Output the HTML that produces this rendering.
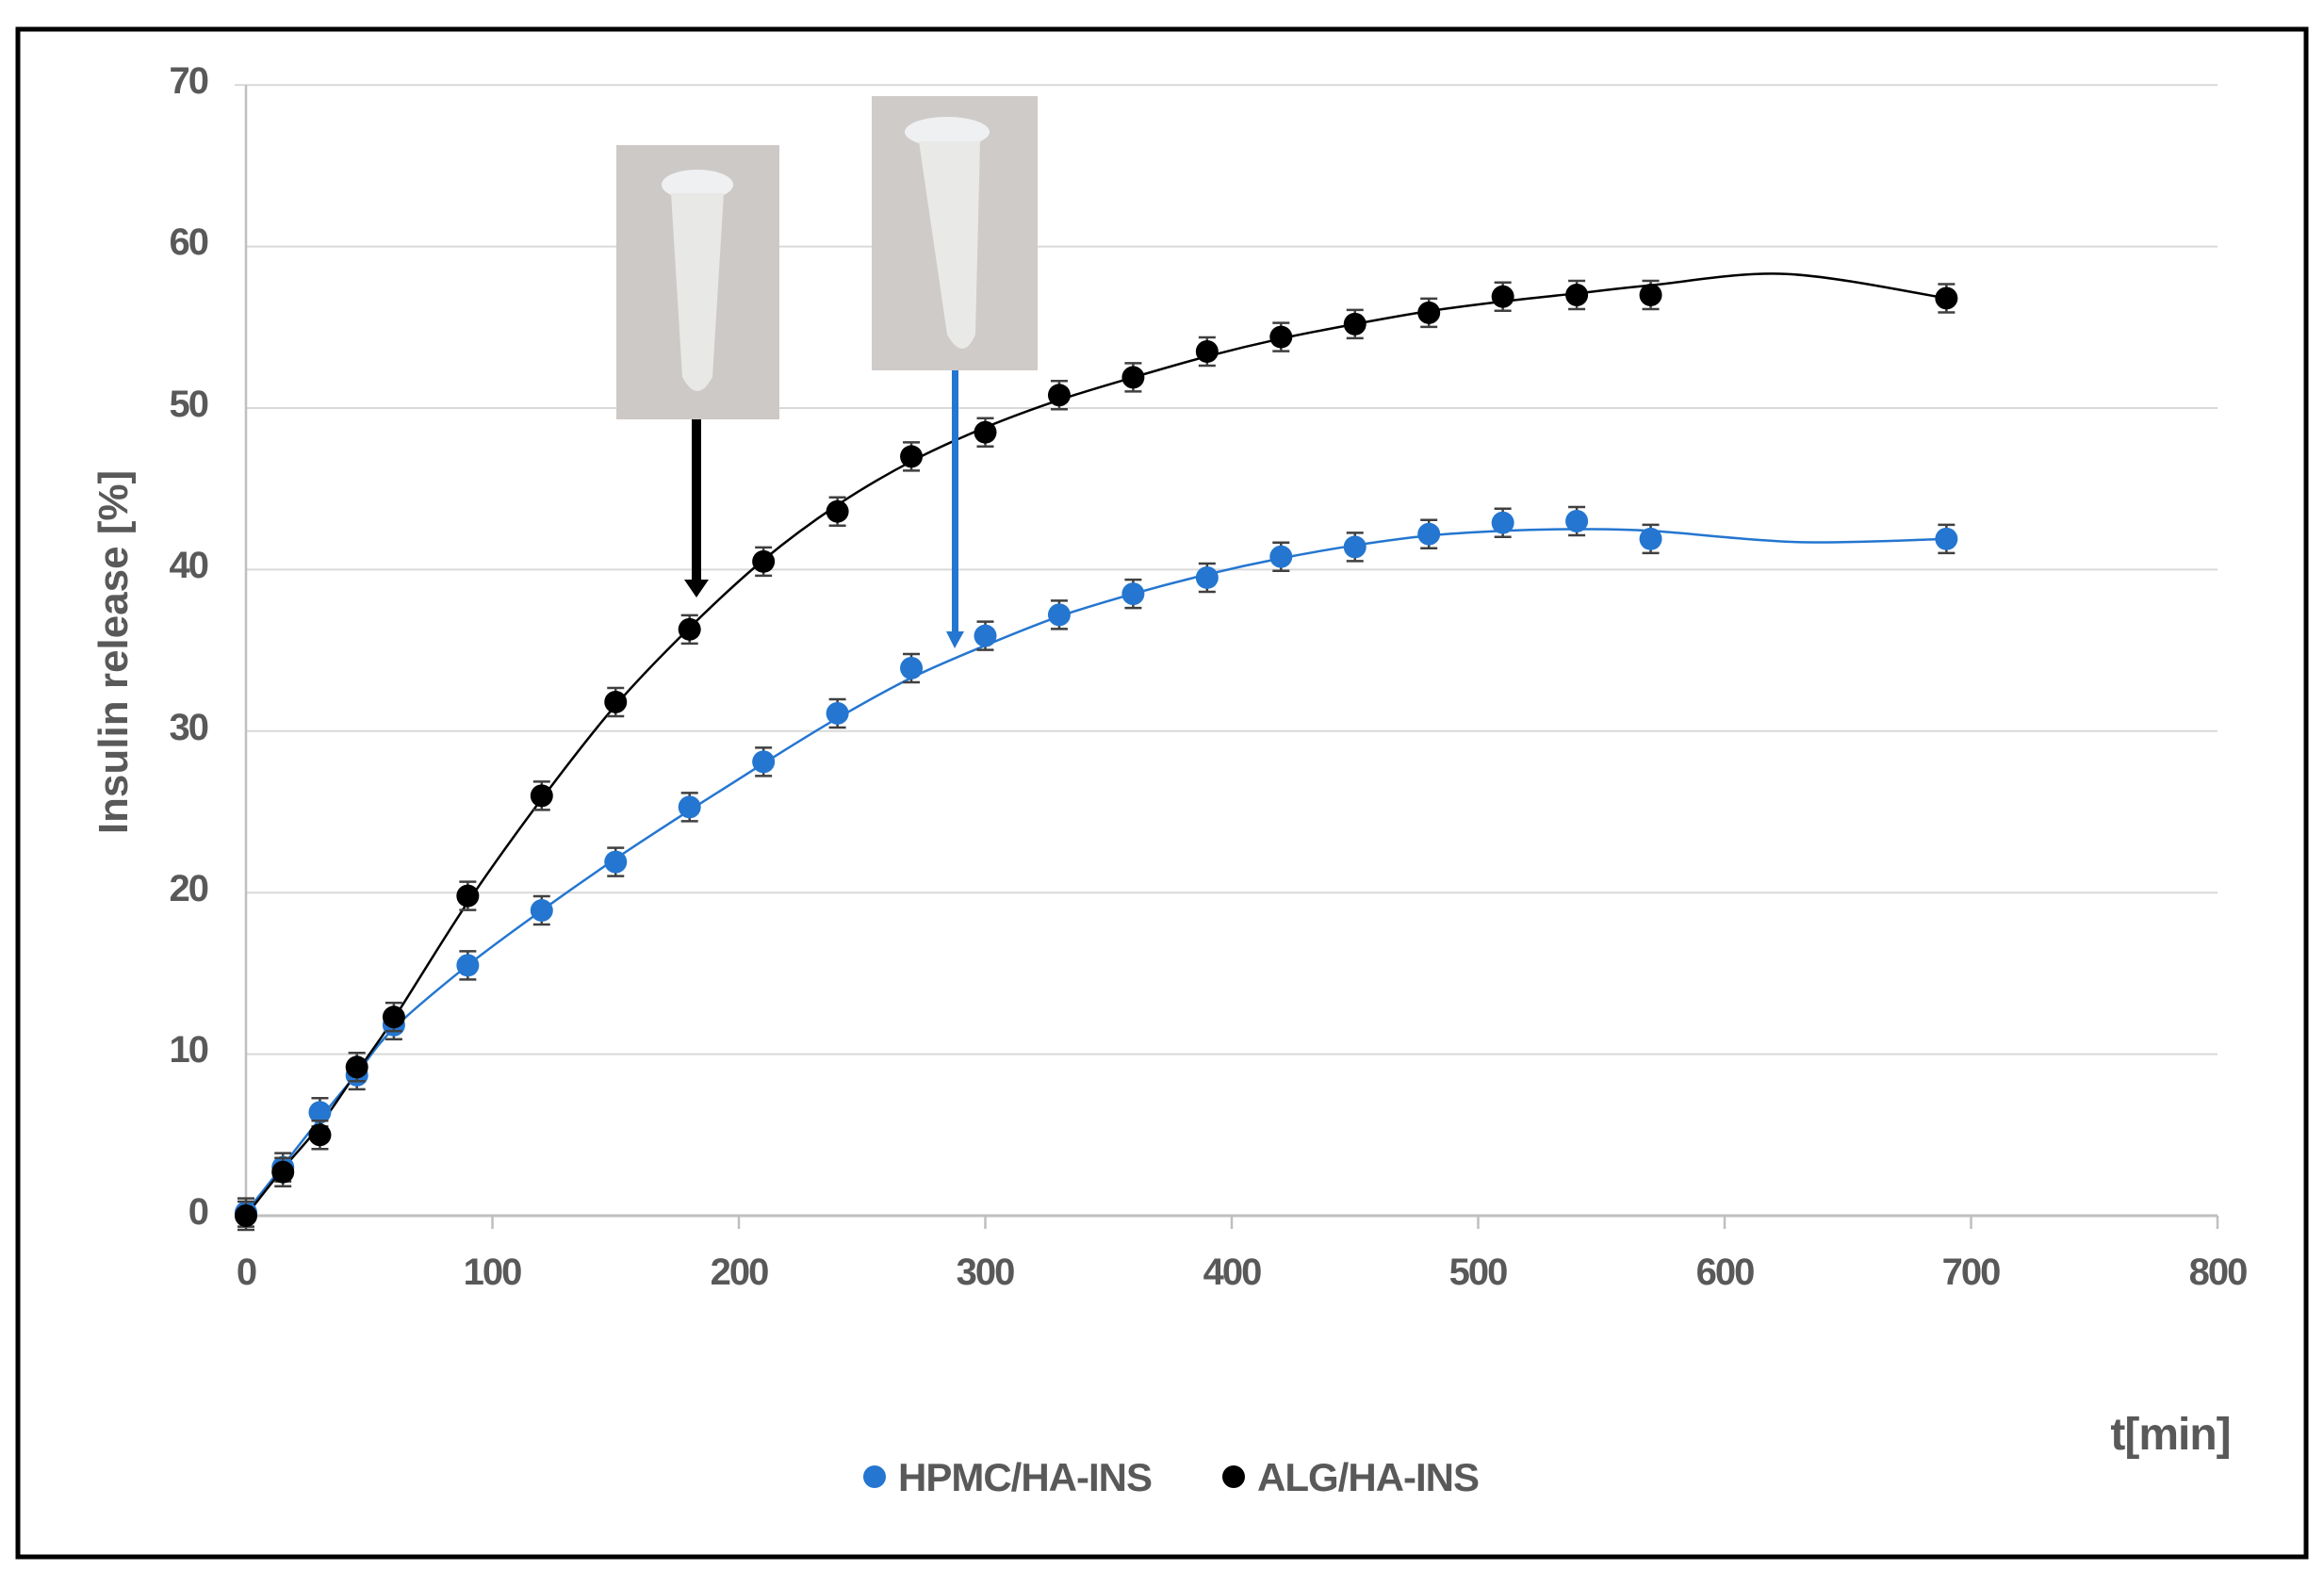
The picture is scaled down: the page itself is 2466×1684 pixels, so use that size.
<!DOCTYPE html>
<html><head><meta charset="utf-8"><style>
html,body{margin:0;padding:0;background:#fff;}
svg{display:block;}
text{font-family:"Liberation Sans",sans-serif;fill:#595959;}
.tk{position:absolute;font-weight:bold;letter-spacing:-2px;}
</style></head><body>
<svg id="s" width="2466" height="1684" viewBox="0 0 2466 1684" xmlns="http://www.w3.org/2000/svg">
<rect x="19" y="31" width="2428" height="1621" fill="#fff" stroke="#000" stroke-width="5"/>
<g id="grid"></g>
<text transform="translate(135,692) rotate(-90)" font-size="44" font-weight="bold" text-anchor="middle">Insulin release [%]</text>
<text x="2303" y="1538" font-size="48" font-weight="bold" text-anchor="middle" letter-spacing="-1">t[min]</text>
<circle cx="928" cy="1567" r="12" fill="#2476d0"/>
<text x="953" y="1582" font-size="42" font-weight="bold" letter-spacing="-1">HPMC/HA-INS</text>
<circle cx="1309" cy="1567" r="12" fill="#000"/>
<text x="1334" y="1582" font-size="42" font-weight="bold" letter-spacing="-1">ALG/HA-INS</text>
<rect x="654" y="154" width="173" height="291" fill="#cdc9c7"/>
<ellipse cx="740" cy="196" rx="38" ry="16" fill="#eef0f2"/>
<path d="M712 205 L768 205 L756 400 Q740 430 724 400 Z" fill="#e8e8e6"/>
<rect x="925" y="102" width="176" height="291" fill="#cfcbc9"/>
<ellipse cx="1005" cy="140" rx="45" ry="16" fill="#eef0f2"/>
<path d="M975 150 L1040 150 L1035 355 Q1022 385 1005 355 Z" fill="#e9e9e7"/>
<g id="series"></g>
<rect x="734" y="445" width="10" height="173" fill="#000"/>
<polygon points="726,615 752,615 739,634" fill="#000"/>
<rect x="1010" y="393" width="7" height="280" fill="#2476d0"/>
<polygon points="1004,670 1023,670 1013,688" fill="#2476d0"/>
</svg>
<script>
const NS="http://www.w3.org/2000/svg";
const X=t=>261+t*2.615, Y=v=>1290-v*17.14;
function el(tag,a,p){const e=document.createElementNS(NS,tag);for(const k in a)e.setAttribute(k,a[k]);p.appendChild(e);return e;}
const g=document.getElementById('grid');
for(let v=10;v<=70;v+=10) el('line',{x1:X(0),x2:X(800),y1:Y(v),y2:Y(v),stroke:'#d9d9d9','stroke-width':2},g);
el('line',{x1:X(0)-12,x2:X(0),y1:Y(70),y2:Y(70),stroke:'#d9d9d9','stroke-width':2},g);
el('line',{x1:X(0),x2:X(0),y1:Y(70),y2:Y(0)+12,stroke:'#bfbfbf','stroke-width':2.5},g);
el('line',{x1:X(0),x2:X(800),y1:Y(0),y2:Y(0),stroke:'#bfbfbf','stroke-width':3},g);
for(let t=100;t<=800;t+=100) el('line',{x1:X(t),x2:X(t),y1:Y(0),y2:Y(0)+14,stroke:'#bfbfbf','stroke-width':2.5},g);
const blk=[[0,0],[15,2.7],[30,5],[45,9.2],[60,12.3],[90,19.8],[120,26],[150,31.8],[180,36.3],[210,40.5],[240,43.6],[270,47],[300,48.5],[330,50.8],[360,51.9],[390,53.5],[420,54.4],[450,55.2],[480,55.9],[510,56.9],[540,57],[570,57],[690,56.8]];
const blu=[[0,0.2],[15,3],[30,6.4],[45,8.7],[60,11.8],[90,15.5],[120,18.9],[150,21.9],[180,25.3],[210,28.1],[240,31.1],[270,33.9],[300,35.9],[330,37.2],[360,38.5],[390,39.5],[420,40.8],[450,41.4],[480,42.2],[510,42.9],[540,43],[570,41.9],[690,41.9]];
function path(pts){const P=pts.map(p=>[X(p[0]),Y(p[1])]);let d='M'+P[0][0]+' '+P[0][1];
for(let i=0;i<P.length-1;i++){const p0=P[i-1]||P[i],p1=P[i],p2=P[i+1],p3=P[i+2]||P[i+1];
const c1=[p1[0]+(p2[0]-p0[0])/6,p1[1]+(p2[1]-p0[1])/6],c2=[p2[0]-(p3[0]-p1[0])/6,p2[1]-(p3[1]-p1[1])/6];
d+=` C${c1[0]} ${c1[1]} ${c2[0]} ${c2[1]} ${p2[0]} ${p2[1]}`;}return d;}
const s=document.getElementById('series');
const bc=[[0,0],[15,2.9],[30,5.6],[45,8.9],[60,12.2],[90,19.4],[120,25.8],[150,31.6],[180,36.4],[210,40.6],[240,44],[270,46.7],[300,48.8],[330,50.5],[360,51.9],[390,53.2],[420,54.3],[450,55.2],[480,56],[510,56.6],[540,57.1],[570,57.6],[625,58.3],[690,56.8]];
const uc=[[0,0.2],[15,3.1],[30,6],[45,8.8],[60,11.6],[90,15.5],[120,18.9],[150,22.1],[180,25.1],[210,28],[240,30.8],[270,33.3],[300,35.3],[330,37.1],[360,38.5],[390,39.7],[420,40.7],[450,41.5],[480,42.1],[510,42.4],[540,42.5],[570,42.4],[630,41.7],[690,41.9]];
el('path',{d:path(uc),fill:'none',stroke:'#2476d0','stroke-width':2.5},s);
el('path',{d:path(bc),fill:'none',stroke:'#000','stroke-width':2.5},s);
function marks(pts,c){pts.forEach(p=>{const x=X(p[0]),y=Y(p[1]),e=15;
el('path',{d:`M${x} ${y-e}V${y+e}M${x-9} ${y-e}H${x+9}M${x-9} ${y+e}H${x+9}`,stroke:'#404040','stroke-width':2.5,fill:'none'},s);
el('circle',{cx:x,cy:y,r:12,fill:c},s);});}
marks(blu,'#2476d0');marks(blk,'#000');
</script>
<div style="position:absolute;left:0;top:0;width:2466px;height:1684px;pointer-events:none;font-family:'Liberation Sans',sans-serif;color:#595959;font-size:40px;">
<div class="tk" style="left:140px;top:64px;width:80px;text-align:right;">70</div>
<div class="tk" style="left:140px;top:235px;width:80px;text-align:right;">60</div>
<div class="tk" style="left:140px;top:407px;width:80px;text-align:right;">50</div>
<div class="tk" style="left:140px;top:578px;width:80px;text-align:right;">40</div>
<div class="tk" style="left:140px;top:750px;width:80px;text-align:right;">30</div>
<div class="tk" style="left:140px;top:921px;width:80px;text-align:right;">20</div>
<div class="tk" style="left:140px;top:1092px;width:80px;text-align:right;">10</div>
<div class="tk" style="left:140px;top:1264px;width:80px;text-align:right;">0</div>
<div class="tk" style="left:201px;top:1328px;width:120px;text-align:center;">0</div>
<div class="tk" style="left:462px;top:1328px;width:120px;text-align:center;">100</div>
<div class="tk" style="left:724px;top:1328px;width:120px;text-align:center;">200</div>
<div class="tk" style="left:985px;top:1328px;width:120px;text-align:center;">300</div>
<div class="tk" style="left:1247px;top:1328px;width:120px;text-align:center;">400</div>
<div class="tk" style="left:1508px;top:1328px;width:120px;text-align:center;">500</div>
<div class="tk" style="left:1770px;top:1328px;width:120px;text-align:center;">600</div>
<div class="tk" style="left:2031px;top:1328px;width:120px;text-align:center;">700</div>
<div class="tk" style="left:2293px;top:1328px;width:120px;text-align:center;">800</div>
</div>
</body></html>
